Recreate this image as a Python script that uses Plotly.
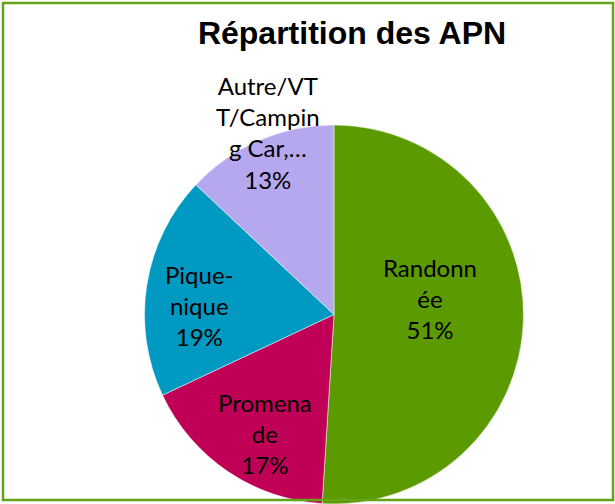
import math
import plotly.graph_objects as go

labels = ["Randonnée", "Promenade", "Pique-nique", "Autre/VTT/Camping Car,…"]
label_lines = ["Randonn<br>ée", "Promena<br>de", "Pique-<br>nique", "Autre/VT<br>T/Campin<br>g Car,…"]
values = [51, 17, 19, 13]
colors = ["#5b9a00", "#c00057", "#0099c2", "#b6a8ee"]
# label placement: radius fraction and angle offset (deg) from slice mid-angle
label_radius = [0.514, 0.728, 0.714, 1.02]
label_angle_offset = [-11.5, -4.2, -5.0, 3.4]

W, H = 615, 504
R = 189.5            # pie radius in pixels
cx, cy = 334, H - R  # pie centre in pixels (from top)

fig = go.Figure()
fig.add_trace(go.Pie(
    labels=labels, values=values, sort=False, direction="clockwise", rotation=0,
    marker=dict(colors=colors, line=dict(color="white", width=0.5)),
    textinfo="none", hoverinfo="label+percent", showlegend=False,
    domain=dict(x=[(cx - R) / W, (cx + R) / W], y=[0, 2 * R / H]),
))

total = sum(values)
cum = 0
for lab, v, rf, off in zip(label_lines, values, label_radius, label_angle_offset):
    mid = math.radians((cum + v / 2) / total * 360 + off)
    cum += v
    px = cx + rf * R * math.sin(mid)
    py = cy - rf * R * math.cos(mid)
    pct = round(v / total * 100)
    fig.add_annotation(
        x=px / W, y=1 - py / H, xref="paper", yref="paper",
        text=f"{lab}<br>{pct}%", showarrow=False, align="center",
        font=dict(family="Lato, Open Sans, sans-serif", size=24, color="black"),
        xanchor="center", yanchor="middle",
    )

fig.add_shape(type="rect", xref="paper", yref="paper",
              x0=3 / W, x1=(W - 2) / W, y0=4 / H, y1=1 - 3 / H,
              line=dict(color="#64a419", width=2.5), layer="above")

fig.update_layout(
    width=W, height=H, margin=dict(l=0, r=0, t=0, b=0),
    paper_bgcolor="white", plot_bgcolor="white",
    title=dict(text="<b>Répartition des APN</b>", x=352 / W, xanchor="center",
               y=1 - 33 / H, yanchor="middle",
               font=dict(family="Liberation Sans, Arial, sans-serif", size=32, color="black")),
)

fig.write_html("out.html", config={"displayModeBar": False},
               post_script="document.body.style.margin='0';document.body.style.overflow='hidden';")
